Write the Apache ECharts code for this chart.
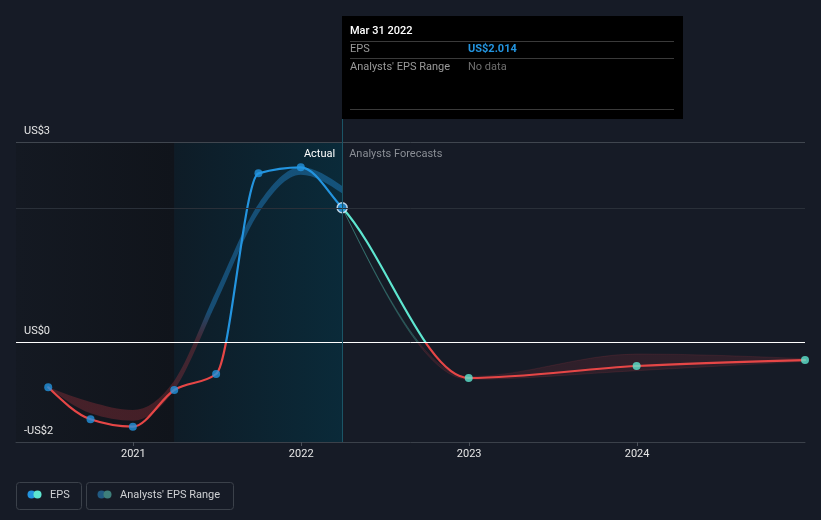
<!DOCTYPE html>
<html>
<head>
<meta charset="utf-8">
<script src="https://cdn.jsdelivr.net/npm/echarts@6/dist/echarts.min.js"></script>
<style>
html,body{margin:0;padding:0;background:#161b26;}
#chart{width:821px;height:520px;}
</style>
</head>
<body>
<div id="chart"></div>
<script>
// ---- data ----
const epsDates = ['2020-06-30','2020-09-30','2020-12-31','2021-03-31','2021-06-30','2021-09-30','2021-12-31','2022-03-31','2022-12-31','2023-12-31','2024-12-31'];
const epsValues = [-0.68, -1.16, -1.27, -0.72, -0.48, 2.53, 2.62, 2.014, -0.54, -0.36, -0.27];
const lastActualIndex = 7;

const pastRangeDates = ['2020-06-30','2020-09-30','2020-12-31','2021-03-31','2021-06-30','2021-09-30','2021-12-31','2022-03-31'];
const pastRangeLow  = [-0.68, -1.07, -1.18, -0.72, 0.58, 1.93, 2.51, 2.23];
const pastRangeHigh = [-0.68, -0.90, -1.02, -0.58, 0.76, 2.07, 2.62, 2.34];

const fcRangeDates = ['2022-03-31','2022-12-31','2023-12-31','2024-12-31'];
const fcRangeLow  = [2.014, -0.56, -0.43, -0.29];
const fcRangeHigh = [2.014, -0.52, -0.18, -0.25];

const yearTicks = ['2021-01-01','2022-01-01','2023-01-01','2024-01-01'];
const yTickValues = [3, 0, -1.5];
const yTickLabels = ['US$3', 'US$0', '-US$2'];
const gridValues = [3, 2];

const xMin = '2020-04-21', xMax = '2024-12-31';
const yMin = -1.5, yMax = 3.36;
const shadeStart = '2021-03-31', shadeEnd = '2022-03-31';

const tooltipTitle = 'Mar 31 2022';
const seriesNames = ['EPS', "Analysts' EPS Range"];

// ---- styles ----
const BLUE = '#2394df', TEAL = '#5ee6d0', RED = '#e64646';
const FONT = 'Roboto, "Noto Sans", sans-serif';

const ts = d => new Date(d + 'T00:00:00').getTime();

function tangents(P) {
  const n = P.length, m = new Array(n).fill(0);
  const sgn = v => v < 0 ? -1 : 1;
  for (let i = 1; i < n - 1; i++) {
    const h0 = P[i][0] - P[i-1][0], h1 = P[i+1][0] - P[i][0];
    const s0 = (P[i][1] - P[i-1][1]) / h0, s1 = (P[i+1][1] - P[i][1]) / h1;
    const p = (s0 * h1 + s1 * h0) / (h0 + h1);
    m[i] = (sgn(s0) + sgn(s1)) * Math.min(Math.abs(s0), Math.abs(s1), 0.5 * Math.abs(p)) || 0;
  }
  if (n >= 2) {
    const sA = (P[1][1] - P[0][1]) / (P[1][0] - P[0][0]);
    const sB = (P[n-1][1] - P[n-2][1]) / (P[n-1][0] - P[n-2][0]);
    if (n === 2) { m[0] = m[1] = sA; }
    else { m[0] = (3 * sA - m[1]) / 2; m[n-1] = (3 * sB - m[n-2]) / 2; }
  }
  return m;
}
const f = v => v.toFixed(2);
function segPath(P, m, a, b) {
  let s = 'M' + f(P[a][0]) + ',' + f(P[a][1]);
  for (let i = a; i < b; i++) {
    const dx = (P[i+1][0] - P[i][0]) / 3;
    s += 'C' + f(P[i][0] + dx) + ',' + f(P[i][1] + dx * m[i]) + ',' + f(P[i+1][0] - dx) + ',' + f(P[i+1][1] - dx * m[i+1]) + ',' + f(P[i+1][0]) + ',' + f(P[i+1][1]);
  }
  return s;
}
function segPathReverse(P, m, a, b) {
  let s = 'L' + f(P[b][0]) + ',' + f(P[b][1]);
  for (let i = b; i > a; i--) {
    const dx = (P[i][0] - P[i-1][0]) / 3;
    s += 'C' + f(P[i][0] - dx) + ',' + f(P[i][1] - dx * m[i]) + ',' + f(P[i-1][0] + dx) + ',' + f(P[i-1][1] + dx * m[i-1]) + ',' + f(P[i-1][0]) + ',' + f(P[i-1][1]);
  }
  return s;
}
function signGradient(api, pos, neg, soft) {
  const H = api.getHeight();
  const z = api.coord([ts(epsDates[0]), 0])[1];
  const o = Math.min(1, Math.max(0, z / H));
  const ot = Math.min(1, Math.max(0, (z - (soft || 0)) / H));
  return new echarts.graphic.LinearGradient(0, 0, 0, H, [
    {offset: 0, color: pos}, {offset: ot, color: pos},
    {offset: o, color: neg}, {offset: 1, color: neg}
  ], true);
}

function bandRenderer(dates, low, high, pos, neg, strokePos, strokeNeg, soft) {
  return function (params, api) {
    if (params.dataIndex !== 0) return null;
    const L = dates.map((d, i) => api.coord([ts(d), low[i]]));
    const U = dates.map((d, i) => api.coord([ts(d), high[i]]));
    const mL = tangents(L), mU = tangents(U);
    const n = dates.length - 1;
    const d = segPath(U, mU, 0, n) + segPathReverse(L, mL, 0, n) + 'Z';
    const children = [{
      type: 'path', shape: {pathData: d},
      style: {fill: signGradient(api, pos, neg, soft), stroke: null}
    }];
    if (strokePos) {
      children.push({type: 'path', shape: {pathData: segPath(U, mU, 0, n)},
        style: {fill: null, stroke: signGradient(api, strokePos, strokeNeg, 0), lineWidth: 1}});
      children.push({type: 'path', shape: {pathData: segPath(L, mL, 0, n)},
        style: {fill: null, stroke: signGradient(api, strokePos, strokeNeg, 0), lineWidth: 1}});
    }
    return {type: 'group', children: children};
  };
}

const chart = echarts.init(document.getElementById('chart'), null, {renderer: 'canvas'});

const option = {
  animation: false,
  backgroundColor: '#161b26',
  grid: {left: 16, right: 16, top: 118, bottom: 78, outerBoundsMode: 'none', containLabel: false},
  xAxis: {
    type: 'value', min: ts(xMin), max: ts(xMax), z: 10,
    axisLine: {show: true, onZero: false, lineStyle: {color: '#3b414a', width: 1}},
    axisTick: {show: true, customValues: yearTicks.map(ts), length: 4, lineStyle: {color: '#4a5059'}},
    axisLabel: {customValues: yearTicks.map(ts), formatter: v => String(new Date(v).getFullYear()),
      color: '#e6e6e6', fontSize: 11, fontFamily: FONT, margin: 7},
    splitLine: {show: false}
  },
  yAxis: {
    type: 'value', min: yMin, max: yMax, z: 10,
    axisLine: {show: false}, axisTick: {show: false}, splitLine: {show: false},
    axisLabel: {
      inside: true, customValues: yTickValues,
      formatter: v => { const i = yTickValues.findIndex(t => Math.abs(t - v) < 1e-9); return i >= 0 ? yTickLabels[i] : ''; },
      color: '#e6e6e6', fontSize: 11, fontFamily: FONT, margin: 8,
      verticalAlign: 'bottom', lineHeight: 13, padding: [0, 0, 4, 0]
    }
  },
  series: [
    {
      type: 'line', name: 'bg', data: [], z: 1, silent: true,
      markArea: {
        silent: true,
        data: [
          [{xAxis: ts(xMin), yAxis: 3, itemStyle: {color: new echarts.graphic.LinearGradient(0, 0, 1, 0, [{offset: 0, color: '#141922'}, {offset: 1, color: '#10141b'}])}},
           {xAxis: ts(shadeStart), yAxis: yMin}],
          [{xAxis: ts(shadeStart), yAxis: 3, itemStyle: {color: new echarts.graphic.LinearGradient(0, 0, 1, 0, [{offset: 0, color: '#0e1c27'}, {offset: 1, color: '#0a2a39'}])},
            label: {show: true, position: 'insideTopRight', distance: 7, formatter: 'Actual', color: '#ffffff', fontSize: 11, fontFamily: FONT}},
           {xAxis: ts(shadeEnd), yAxis: yMin}],
          [{xAxis: ts(shadeEnd), yAxis: 3, itemStyle: {color: 'rgba(0,0,0,0)'},
            label: {show: true, position: 'insideTopLeft', distance: 7, formatter: 'Analysts Forecasts', color: '#8a8e95', fontSize: 11, fontFamily: FONT}},
           {xAxis: ts(xMax), yAxis: yMin}]
        ]
      },
      markLine: {
        silent: true, symbol: ['none', 'none'], label: {show: false},
        data: [
          ...gridValues.map(v => ({yAxis: v, lineStyle: {color: v === 3 ? '#40464f' : '#2a3039', width: 1, type: 'solid'}})),
          {yAxis: 0, lineStyle: {color: '#ffffff', width: 1, type: 'solid'}},
          {xAxis: ts(shadeEnd), lineStyle: {color: '#1b5566', width: 1, type: 'solid'}}
        ]
      }
    },
    {
      type: 'custom', name: seriesNames[1], z: 2, silent: true,
      data: pastRangeDates.map((d, i) => [ts(d), pastRangeLow[i], pastRangeHigh[i]]),
      encode: {x: 0, y: [1, 2]},
      renderItem: bandRenderer(pastRangeDates, pastRangeLow, pastRangeHigh,
        'rgba(35,140,215,0.42)', 'rgba(215,60,70,0.26)', null, null, 30)
    },
    {
      type: 'custom', name: seriesNames[1] + ' forecast', z: 2, silent: true,
      data: fcRangeDates.map((d, i) => [ts(d), fcRangeLow[i], fcRangeHigh[i]]),
      encode: {x: 0, y: [1, 2]},
      renderItem: bandRenderer(fcRangeDates, fcRangeLow, fcRangeHigh,
        'rgba(93,230,207,0.15)', 'rgba(215,60,70,0.13)', 'rgba(93,230,207,0.22)', 'rgba(215,60,70,0.12)', 0)
    },
    {
      type: 'custom', name: seriesNames[0] + ' line', z: 3, silent: true,
      data: epsDates.map((d, i) => [ts(d), epsValues[i]]),
      encode: {x: 0, y: 1},
      renderItem: function (params, api) {
        if (params.dataIndex !== 0) return null;
        const P = epsDates.map((d, i) => api.coord([ts(d), epsValues[i]]));
        const m = tangents(P);
        const n = P.length - 1;
        return {type: 'group', children: [
          {type: 'path', shape: {pathData: segPath(P, m, 0, lastActualIndex)},
           style: {fill: null, stroke: signGradient(api, BLUE, RED, 0), lineWidth: 2.2, lineCap: 'round', lineJoin: 'round'}},
          {type: 'path', shape: {pathData: segPath(P, m, lastActualIndex, n)},
           style: {fill: null, stroke: signGradient(api, TEAL, RED, 0), lineWidth: 2.2, lineCap: 'round', lineJoin: 'round'}}
        ]};
      }
    },
    {
      type: 'scatter', name: seriesNames[0], z: 4, silent: true,
      data: epsDates.map((d, i) => ({
        value: [ts(d), epsValues[i]],
        symbolSize: i === lastActualIndex ? 10 : 8,
        itemStyle: {
          color: i <= lastActualIndex ? BLUE : TEAL,
          borderColor: i === lastActualIndex ? '#e6f2ff' : 'rgba(0,0,0,0)',
          borderWidth: i === lastActualIndex ? 1.5 : 0
        }
      }))
    }
  ],
  graphic: [
    // tooltip box
    {type: 'rect', z: 100, shape: {x: 342, y: 16, width: 341, height: 103}, style: {fill: '#000000'}},
    {type: 'text', z: 101, x: 350, y: 31, style: {text: tooltipTitle, fill: '#ffffff', font: '500 11px ' + FONT, verticalAlign: 'middle'}},
    {type: 'line', z: 101, shape: {x1: 350, y1: 41.5, x2: 674, y2: 41.5}, style: {stroke: '#3a3a3a', lineWidth: 1}},
    {type: 'text', z: 101, x: 350, y: 49, style: {text: seriesNames[0], fill: '#9a9a9a', font: '11px ' + FONT, verticalAlign: 'middle'}},
    {type: 'text', z: 101, x: 468, y: 49, style: {text: 'US$' + epsValues[lastActualIndex].toFixed(3), fill: BLUE, font: 'bold 11px ' + FONT, verticalAlign: 'middle'}},
    {type: 'line', z: 101, shape: {x1: 350, y1: 58.5, x2: 674, y2: 58.5}, style: {stroke: '#3a3a3a', lineWidth: 1}},
    {type: 'text', z: 101, x: 350, y: 67, style: {text: seriesNames[1], fill: '#9a9a9a', font: '11px ' + FONT, verticalAlign: 'middle'}},
    {type: 'text', z: 101, x: 468, y: 67, style: {text: 'No data', fill: '#6f6f6f', font: '11px ' + FONT, verticalAlign: 'middle'}},
    {type: 'line', z: 101, shape: {x1: 350, y1: 109.5, x2: 674, y2: 109.5}, style: {stroke: '#3a3a3a', lineWidth: 1}},
    // legend
    {type: 'rect', z: 100, shape: {x: 16.5, y: 482.5, width: 65, height: 27, r: 3}, style: {fill: 'none', stroke: '#3b414a', lineWidth: 1}},
    {type: 'circle', z: 101, shape: {cx: 31.5, cy: 494.5, r: 4}, style: {fill: BLUE}},
    {type: 'circle', z: 102, shape: {cx: 37.5, cy: 494.5, r: 4}, style: {fill: TEAL}},
    {type: 'text', z: 101, x: 50, y: 495, style: {text: seriesNames[0], fill: '#cfd1d4', font: '11px ' + FONT, verticalAlign: 'middle'}},
    {type: 'rect', z: 100, shape: {x: 86.5, y: 482.5, width: 147, height: 27, r: 3}, style: {fill: 'none', stroke: '#3b414a', lineWidth: 1}},
    {type: 'circle', z: 101, shape: {cx: 101.5, cy: 494.5, r: 4}, style: {fill: '#215a82'}},
    {type: 'circle', z: 102, shape: {cx: 107.5, cy: 494.5, r: 4}, style: {fill: '#3e7f7b'}},
    {type: 'text', z: 101, x: 120, y: 495, style: {text: seriesNames[1], fill: '#cfd1d4', font: '11px ' + FONT, verticalAlign: 'middle'}}
  ]
};
chart.setOption(option);
</script>
</body>
</html>
